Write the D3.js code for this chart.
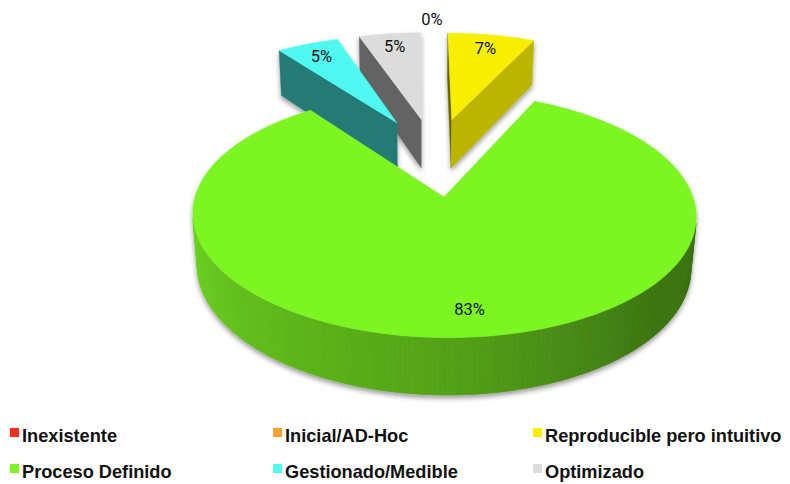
<!DOCTYPE html>
<html>
<head>
<meta charset="utf-8">
<script src="https://cdn.jsdelivr.net/npm/d3@7"></script>
<style>
html, body { margin: 0; padding: 0; background: #ffffff; }
svg { display: block; }
</style>
</head>
<body>
<svg id="chart" width="790" height="484"></svg>
<script>
// Nivel de madurez de los procesos: share of answers per level
const categories = ["Inexistente", "Inicial/AD-Hoc", "Reproducible pero intuitivo",
                    "Proceso Definido", "Gestionado/Medible", "Optimizado"];
const values = [0, 0, 7, 83, 5, 5];
const valueLabels = ["0%", "0%", "7%", "83%", "5%", "5%"];
const colors = ["#ff2a1c", "#ffa033", "#f8ef00", "#7df523", "#50f8f0", "#dcdcdc"];

const svg = d3.select("#chart");
const deg = Math.PI / 180;

// ---- 3D view of the pie (lengths in pie radii) ----
const tilt = 28.8 * deg;          // elevation of the eye above the pie plane
const camDist = 5.96;             // eye distance to the aim point
const focal = 1484;               // px
const aim = { a: -0.066, b: -0.358 };  // plane point drawn at the view centre
const viewCenter = [419.1, 197];
const thickness = 0.242;
const explode = 0.36;
const sinT = Math.sin(tilt), cosT = Math.cos(tilt);

// a: to the right, b: away from the eye, c: up
function project(a, b, c) {
  const da = a - aim.a, db = b - aim.b;
  const yc = db * sinT + c * cosT;
  const zc = camDist + db * cosT - c * sinT;
  return [viewCenter[0] + focal * da / zc, viewCenter[1] - focal * yc / zc];
}
function depth(a, b, c) {
  return camDist + (b - aim.b) * cosT - c * sinT;
}
const eye = { a: aim.a, b: aim.b - camDist * cosT, c: camDist * sinT };

// shading of the curved wall by angle, and of the cut faces by their normal
const wallShade = d3.scaleLinear().domain([90, 130, 180, 270]).range([0.46, 0.47, 0.66, 0.88]).clamp(true);
const cutShade = d3.scaleLinear().domain([90, 180, 270]).range([0.82, 0.6, 0.42]).clamp(true);
function shade(color, f) {
  const c = d3.rgb(color);
  return d3.rgb(c.r * f, c.g * f, c.b * f).formatHex();
}
function normAngle(na, nb) {
  const t = Math.atan2(na, nb) / deg;
  return (t + 360) % 360;
}

const rows = categories.map((name, i) => ({
  name, value: values[i], label: valueLabels[i], color: colors[i]
}));

const pie = d3.pie().value(d => d.value).sort(null).startAngle(0).endAngle(2 * Math.PI);
const arcs = pie(rows).map(p => {
  const mid = (p.startAngle + p.endAngle) / 2;
  return Object.assign(p, {
    mid,
    color: p.data.color,
    ca: explode * Math.sin(mid),
    cb: explode * Math.cos(mid)
  });
});

const line = d3.line();

// ---- defs: soft shadow under the pie ----
const defs = svg.append("defs");
const filt = defs.append("filter").attr("id", "pieShadow")
  .attr("x", "-10%").attr("y", "-10%").attr("width", "120%").attr("height", "130%");
filt.append("feGaussianBlur").attr("in", "SourceAlpha").attr("stdDeviation", 2.5);
filt.append("feOffset").attr("dx", 0).attr("dy", 3);
filt.append("feComponentTransfer").append("feFuncA").attr("type", "linear").attr("slope", 0.4);
const merge = filt.append("feMerge");
merge.append("feMergeNode");
merge.append("feMergeNode").attr("in", "SourceGraphic");

const pieG = svg.append("g").attr("filter", "url(#pieShadow)");

// far slices first
const drawn = arcs.filter(d => d.value > 0)
  .sort((p, q) => depth(q.ca, q.cb, 0) - depth(p.ca, p.cb, 0));

drawn.forEach(d => {
  const g = pieG.append("g").attr("class", "slice");
  const s = d.startAngle, e = d.endAngle;
  const n = Math.max(2, Math.ceil((e - s) / deg));
  const angles = d3.range(n + 1).map(i => s + (e - s) * i / n);
  const rim = (t, c) => project(d.ca + Math.sin(t), d.cb + Math.cos(t), c);
  const top = project(d.ca, d.cb, 0), bot = project(d.ca, d.cb, -thickness);
  const toEye = (a, b, c) => [eye.a - a, eye.b - b, eye.c - c];

  // radial cut faces
  [[s, -Math.cos(s), Math.sin(s)], [e, Math.cos(e), -Math.sin(e)]].forEach(([t, na, nb]) => {
    const v = toEye(d.ca, d.cb, 0);
    if (na * v[0] + nb * v[1] <= 0) return;
    const col = shade(d.color, cutShade(normAngle(na, nb)));
    g.append("path")
      .attr("d", line([top, rim(t, 0), rim(t, -thickness), bot]) + "Z")
      .attr("fill", col).attr("stroke", col).attr("stroke-width", 0.4);
  });

  // curved outer wall, facing the eye
  for (let i = 0; i < n; i++) {
    const t0 = angles[i], t1 = angles[i + 1], tm = (t0 + t1) / 2;
    const pa = d.ca + Math.sin(tm), pb = d.cb + Math.cos(tm);
    const v = toEye(pa, pb, 0);
    if (Math.sin(tm) * v[0] + Math.cos(tm) * v[1] <= 0) continue;
    const col = shade(d.color, wallShade(((tm / deg) % 360 + 360) % 360));
    g.append("path")
      .attr("d", line([rim(t0, 0), rim(t1, 0), rim(t1, -thickness), rim(t0, -thickness)]) + "Z")
      .attr("fill", col).attr("stroke", col).attr("stroke-width", 0.6);
  }

  // top face
  g.append("path")
    .attr("d", line([top].concat(angles.map(t => rim(t, 0)))) + "Z")
    .attr("fill", d.color).attr("stroke", d.color).attr("stroke-width", 0.4);
});

// ---- value labels on the top faces (empty slices sit just outside the rim) ----
const labelPts = [];
arcs.forEach(d => {
  const r = d.value > 0 ? 0.83 : 1.18;
  const p = project(d.ca + r * Math.sin(d.mid), d.cb + r * Math.cos(d.mid), 0);
  if (labelPts.some(q => Math.abs(q.p[0] - p[0]) < 1 && Math.abs(q.p[1] - p[1]) < 1)) return;
  labelPts.push({ p, text: d.data.label });
});
svg.append("g").selectAll("text").data(labelPts).join("text")
  .attr("x", d => d.p[0]).attr("y", d => d.p[1])
  .attr("text-anchor", "middle").attr("dominant-baseline", "central")
  .attr("font-family", "Roboto, sans-serif").attr("font-size", 16.5)
  .attr("fill", "#111111")
  .text(d => d.text);

// ---- legend: two rows of three ----
const legendCols = [10, 273, 533];
const legendRows = [436, 472];
const lg = svg.append("g").selectAll("g").data(rows).join("g")
  .attr("transform", (d, i) => `translate(${legendCols[i % 3]},${legendRows[Math.floor(i / 3)]})`);
lg.append("rect").attr("x", 0).attr("y", -8).attr("width", 9).attr("height", 9)
  .attr("fill", d => d.color);
lg.append("text").attr("x", 12).attr("y", 6)
  .attr("font-family", "'Liberation Sans', Arial, sans-serif").attr("font-weight", "bold")
  .attr("font-size", 18.2).attr("fill", "#111")
  .text(d => d.name);
</script>
</body>
</html>
